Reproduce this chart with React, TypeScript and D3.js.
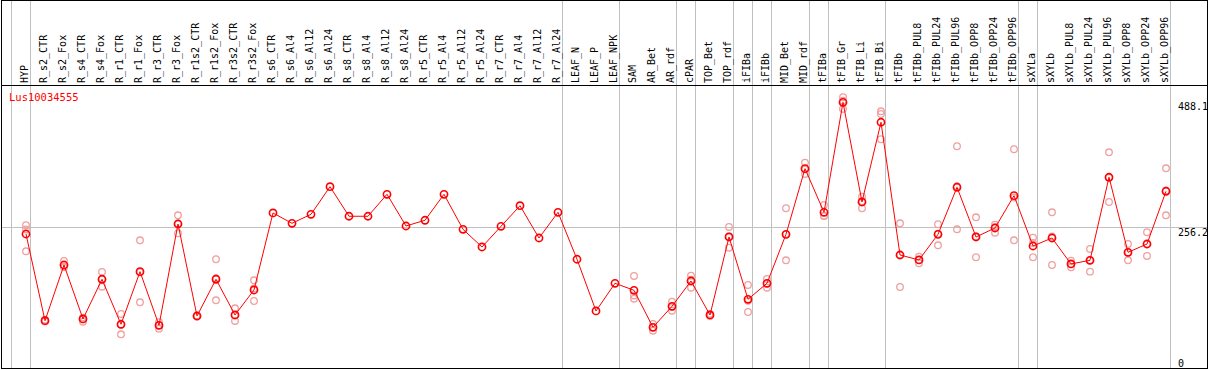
import React from "react";
import * as d3 from "d3";

const categories: string[] = [
  "HYP", "R_s2_CTR", "R_s2_Fox", "R_s4_CTR", "R_s4_Fox", "R_r1_CTR", "R_r1_Fox", "R_r3_CTR", "R_r3_Fox",
  "R_r1s2_CTR", "R_r1s2_Fox", "R_r3s2_CTR", "R_r3s2_Fox", "R_s6_CTR", "R_s6_Al4", "R_s6_Al12", "R_s6_Al24",
  "R_s8_CTR", "R_s8_Al4", "R_s8_Al12", "R_s8_Al24", "R_r5_CTR", "R_r5_Al4", "R_r5_Al12", "R_r5_Al24",
  "R_r7_CTR", "R_r7_Al4", "R_r7_Al12", "R_r7_Al24", "LEAF_N", "LEAF_P", "LEAF_NPK", "SAM", "AR_Bet", "AR_rdf",
  "cPAR", "TOP_Bet", "TOP_rdf", "iFIBa", "iFIBb", "MID_Bet", "MID_rdf", "tFIBa", "tFIB_Gr", "tFIB_Li", "tFIB_Bi",
  "tFIBb", "tFIBb_PUL8", "tFIBb_PUL24", "tFIBb_PUL96", "tFIBb_OPP8", "tFIBb_OPP24", "tFIBb_OPP96",
  "sXYLa", "sXYLb", "sXYLb_PUL8", "sXYLb_PUL24", "sXYLb_PUL96", "sXYLb_OPP8", "sXYLb_OPP24", "sXYLb_OPP96",
];

const meanValues: number[] = [
  244.6, 84.3, 187.3, 87.5, 160.9, 77.7, 175, 75.8, 263.1, 93, 160.9, 94.9, 141.1,
  283.5, 264.4, 281, 332.1, 277.4, 277.4, 318, 259.4, 270, 318, 253.3, 220.6, 258.8, 296.9, 237.2, 284.7,
  197.9, 102.3, 153.5, 140.5, 72.1, 110.9, 157.7, 94.9, 239.1, 123.9, 153.5, 244, 365.4, 284.7, 488.1,
  303.8, 451.2, 205.8, 196.6, 244, 331, 239.1, 255.7, 315.5, 222.4, 237.2, 189.2, 196, 349.5, 210.8, 226.1, 323.6,
];

const replicateValues: number[][] = [
  [261, 253, 212.6], [86, 83, 84], [195, 184, 183], [90, 82.5, 87], [174.4, 147.2, 161], [96.7, 59.2, 77],
  [233, 118.3, 174], [81.4, 69.6, 76], [279.2, 246, 264], [94, 92, 93], [197.9, 122, 163], [107.2, 83.8, 94],
  [159, 120.7, 144], [], [], [], [], [], [], [], [], [], [], [], [], [], [], [], [], [], [], [],
  [167, 131, 125], [78.2, 65.8, 72], [119.5, 102.8, 110], [167.5, 145.3, 160], [97, 93, 95], [257.6, 219.3, 240],
  [150.3, 100.4, 121], [161.4, 145.3, 153], [292.2, 196, 244], [376.5, 355.6, 364], [298.3, 278, 278],
  [497.4, 475.8, 491], [313.6, 292.2, 305], [471.5, 466.5, 419.8], [264.4, 146.6, 206], [202.7, 190.5, 197],
  [262.6, 223.7, 245], [406.8, 253.3, 333], [275.5, 201.6, 240], [261.8, 247, 257], [401.3, 233, 312],
  [237.8, 201.6, 228], [284.7, 187.3, 240], [195.2, 183, 189], [216.9, 175, 196], [395.7, 303.8, 349],
  [226.1, 196, 210], [247.8, 204, 226], [366.1, 279.2, 325],
];

// indices after which a group separator line is drawn (-1 = before first)
const separatorsAfter: number[] = [-1, 0, 28, 31, 34, 35, 37, 38, 39, 41, 42, 45, 52, 53, 60];
const yTicks: number[] = [488.1, 256.2, 0];
const gridValues: number[] = [256.2];
const geneName = "Lus10034555";

const W = 1209;
const H = 370;
const FONT = "'DejaVu Sans Mono', monospace";

export default function App() {
  const x = d3.scalePoint<string>().domain(categories).range([26, 1166]).padding(0);
  const step = x.step();
  const y = d3.scaleLinear().domain([0, 488.1]).range([366.3, 102.3]);
  const xi = (i: number) => (x(categories[0]) as number) + step * i;

  const line = d3
    .line<number>()
    .x((_, i) => x(categories[i]) as number)
    .y((d) => y(d));

  const red = "#ff0000";
  const pale = "#f0a0a0";
  const grey = "#c0c0c0";

  return (
    <svg
      width={W}
      height={H}
      style={{ position: "absolute", left: 0, top: 0, background: "#fff" }}
      fontFamily={FONT}
    >
      <rect x={0} y={0} width={W} height={H} fill="#fff" />
      {/* vertical separators */}
      {separatorsAfter.map((k) => {
        const lx = Math.floor(xi(k) + 4.5) + 0.5;
        return <line key={"s" + k} x1={lx} x2={lx} y1={0} y2={369} stroke={grey} strokeWidth={1} shapeRendering="crispEdges" />;
      })}
      {/* horizontal grid */}
      {gridValues.map((v) => {
        const gy = Math.floor(y(v)) + 0.5;
        return <line key={"g" + v} x1={1} x2={1207} y1={gy} y2={gy} stroke={grey} strokeWidth={1} shapeRendering="crispEdges" />;
      })}
      {/* borders */}
      <line x1={1} x2={1208} y1={0.5} y2={0.5} stroke="#000" shapeRendering="crispEdges" />
      <line x1={1} x2={1208} y1={85.5} y2={85.5} stroke="#000" shapeRendering="crispEdges" />
      <line x1={1} x2={1208} y1={368.5} y2={368.5} stroke="#000" shapeRendering="crispEdges" />
      <line x1={1.5} x2={1.5} y1={0} y2={369} stroke="#000" shapeRendering="crispEdges" />
      <line x1={1207.5} x2={1207.5} y1={0} y2={369} stroke="#000" shapeRendering="crispEdges" />

      {/* column labels */}
      {categories.map((c) => {
        const lx = (x(c) as number) + 1.5;
        return (
          <text key={"l" + c} transform={`translate(${lx},83) rotate(-90)`} fontSize={10} fill="#000">
            {c}
          </text>
        );
      })}

      {/* title */}
      <text x={9} y={101} fontSize={10.5} fill={red}>
        {geneName}
      </text>

      {/* y labels */}
      {yTicks.map((v) => (
        <text key={"t" + v} x={1178} y={Math.min(y(v), 358.5) + 8} fontSize={10} fill="#000">
          {v === 0 ? "0" : v.toFixed(1)}
        </text>
      ))}

      {/* replicates */}
      {replicateValues.map((reps, i) =>
        reps.map((v, j) => (
          <circle key={`r${i}-${j}`} cx={x(categories[i]) as number} cy={y(v)} r={3.3} fill="none" stroke={pale} strokeWidth={1.3} />
        ))
      )}

      {/* mean line */}
      <path d={line(meanValues) || ""} fill="none" stroke={red} strokeWidth={1} />

      {/* mean markers */}
      {meanValues.map((v, i) => (
        <circle key={"m" + i} cx={x(categories[i]) as number} cy={y(v)} r={3.6} fill="none" stroke={red} strokeWidth={1.6} />
      ))}
    </svg>
  );
}
